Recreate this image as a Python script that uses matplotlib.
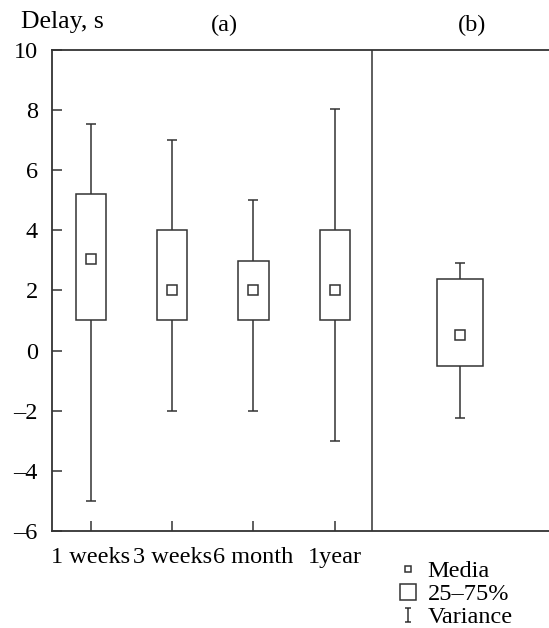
import matplotlib
matplotlib.use("Agg")
import matplotlib.pyplot as plt
from matplotlib.lines import Line2D
from matplotlib.path import Path

plt.rcParams['font.family'] = ['Liberation Serif', 'DejaVu Serif']
plt.rcParams['font.size'] = 17.5

# data
groups = ["1 weeks", "3 weeks", "6 month", "1year"]
positions_a = [1, 2, 3, 4]
med_a = [3.05, 2.0, 2.0, 2.0]
q1_a = [1.0, 1.0, 1.0, 1.0]
q3_a = [5.22, 4.02, 2.97, 4.0]
lo_a = [-5.0, -2.0, -2.0, -3.0]
hi_a = [7.56, 7.0, 5.0, 8.03]

pos_b = [5.546]
med_b = [0.53]
q1_b = [-0.5]
q3_b = [2.37]
lo_b = [-2.25]
hi_b = [2.9]

col = "#333333"
lw = 1.1

fig = plt.figure(figsize=(5.49, 6.28), dpi=100)
ax = fig.add_axes([0.0942, 0.155, 0.9058, 0.765])


def draw_boxes(pos, med, q1, q3, lo, hi, width):
    yerr = [[m - l for m, l in zip(med, lo)], [h - m for m, h in zip(med, hi)]]
    ax.errorbar(pos, med, yerr=yerr, fmt='none', ecolor=col, elinewidth=lw,
                capsize=3.3, capthick=lw, zorder=1)
    ax.bar(pos, [b - a for a, b in zip(q1, q3)], bottom=q1, width=width,
           facecolor='white', edgecolor=col, linewidth=lw, zorder=2)
    ax.plot(pos, med, linestyle='none', marker='s', markersize=6.5,
            markerfacecolor='white', markeredgecolor=col, markeredgewidth=lw, zorder=3)


draw_boxes(positions_a, med_a, q1_a, q3_a, lo_a, hi_a, 0.373)
draw_boxes(pos_b, med_b, q1_b, q3_b, lo_b, hi_b, 0.566)

ax.axvline(4.456, color=col, linewidth=lw)

ax.set_xlim(0.518, 6.635)
ax.set_ylim(-6, 10)
ax.set_yticks(range(-6, 11, 2))
ax.set_yticklabels([str(v).replace('-', '\u2013') for v in range(-6, 11, 2)])
ax.set_xticks(positions_a)
ax.set_xticklabels(groups)
ax.tick_params(axis='y', direction='in', length=7, width=lw, color=col, pad=10)
ax.tick_params(axis='x', direction='in', length=7, width=lw, color=col, pad=12)
ax.spines['right'].set_visible(False)
for s in ['left', 'top', 'bottom']:
    ax.spines[s].set_linewidth(1.3)
    ax.spines[s].set_color(col)

fig.text(21 / 549, 1 - 28 / 628, "Delay, s", va='baseline', ha='left', fontsize=18.5)
fig.text(224 / 549, 1 - 31 / 628, "(a)", va='baseline', ha='center')
fig.text(472 / 549, 1 - 31 / 628, "(b)", va='baseline', ha='center')

# legend
ibeam = Path([(-0.25, 0.5), (0.25, 0.5), (0, 0.5), (0, -0.5), (-0.25, -0.5), (0.25, -0.5)],
             [Path.MOVETO, Path.LINETO, Path.MOVETO, Path.LINETO, Path.MOVETO, Path.LINETO])
handles = [
    Line2D([], [], linestyle='none', marker='s', markersize=5, markerfacecolor='white',
           markeredgecolor=col, markeredgewidth=lw),
    Line2D([], [], linestyle='none', marker='s', markersize=12, markerfacecolor='white',
           markeredgecolor=col, markeredgewidth=lw),
    Line2D([], [], linestyle='none', marker=ibeam, markersize=10, markerfacecolor='none',
           markeredgecolor=col, markeredgewidth=lw),
]
fig.legend(handles, ["Media", "25\u201375%", "Variance"], loc='upper left',
           bbox_to_anchor=(396 / 549, 1 - 560 / 628), frameon=False,
           handlelength=1.0, handletextpad=0.3, labelspacing=0.05,
           borderpad=0, borderaxespad=0)

fig.savefig("out.png", dpi=100)
